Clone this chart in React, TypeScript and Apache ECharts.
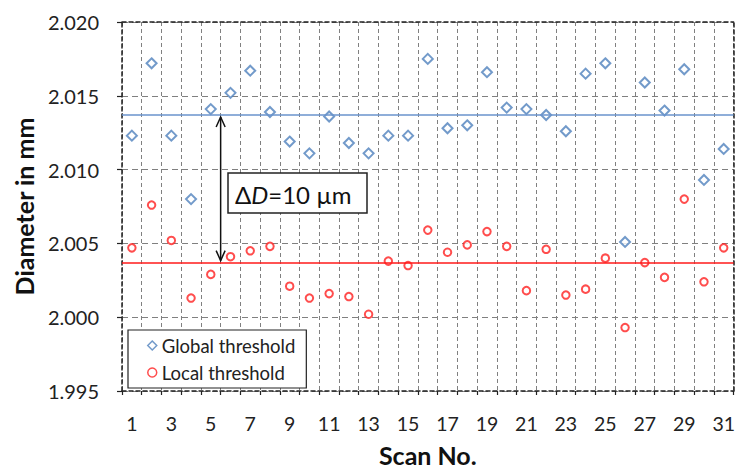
import React, { useEffect, useRef } from "react";
import * as echarts from "echarts";

const scanNumbers = ["1","2","3","4","5","6","7","8","9","10","11","12","13","14","15","16","17","18","19","20","21","22","23","24","25","26","27","28","29","30","31"];

const globalThreshold = [2.0123, 2.0172, 2.0123, 2.0080, 2.0141, 2.0152, 2.0167, 2.0139, 2.0119, 2.0111, 2.0136, 2.0118, 2.0111, 2.0123, 2.0123, 2.0175, 2.0128, 2.0130, 2.0166, 2.0142, 2.0141, 2.0137, 2.0126, 2.0165, 2.0172, 2.0051, 2.0159, 2.0140, 2.0168, 2.0093, 2.0114];

const localThreshold = [2.0047, 2.0076, 2.0052, 2.0013, 2.0029, 2.0041, 2.0045, 2.0048, 2.0021, 2.0013, 2.0016, 2.0014, 2.0002, 2.0038, 2.0035, 2.0059, 2.0044, 2.0049, 2.0058, 2.0048, 2.0018, 2.0046, 2.0015, 2.0019, 2.0040, 1.9993, 2.0037, 2.0027, 2.0080, 2.0024, 2.0047];

const globalMean = 2.0137;
const localMean = 2.0037;

const seriesNames = ["Global threshold", "Local threshold"];
const yMin = 1.995;
const yMax = 2.02;
const yStep = 0.005;

const FONT = "Lato, 'Open Sans', sans-serif";
const BLUE = "#4F81BD";
const RED = "#FF2020";

export default function App() {
  const ref = useRef<HTMLDivElement>(null);
  useEffect(() => {
    document.body.style.margin = "0";
    const chart = echarts.init(ref.current!, undefined, { renderer: "svg" });
    const dashedBorder = { color: "#222", width: 1.5, type: [4, 3] as any };
    chart.setOption({
      animation: false,
      backgroundColor: "#fff",
      grid: { left: 122, right: 4, top: 22, bottom: 75, containLabel: false },
      legend: {
        orient: "vertical",
        left: 128,
        top: 330,
        padding: [6, 11, 6, 19],
        itemGap: 8,
        itemWidth: 9,
        itemHeight: 9,
        borderColor: "#222",
        borderWidth: 1.2,
        backgroundColor: "#fff",
        textStyle: { fontFamily: FONT, fontSize: 18.5, color: "#222" },
        data: [
          { name: seriesNames[0], icon: "diamond", itemStyle: { color: "#fff", borderColor: BLUE, borderWidth: 1.5 } },
          { name: seriesNames[1], icon: "circle", itemStyle: { color: "#fff", borderColor: RED, borderWidth: 1.5 } },
        ],
      },
      xAxis: [
        {
          type: "category",
          data: scanNumbers,
          boundaryGap: true,
          name: "Scan No.",
          nameLocation: "middle",
          nameGap: 51,
          nameTextStyle: { fontFamily: FONT, fontSize: 25, fontWeight: "bold", color: "#111" },
          axisLine: { lineStyle: dashedBorder },
          axisTick: { show: true, interval: 0, length: 4, lineStyle: { color: "#222", width: 1.2 } },
          axisLabel: { interval: 1, margin: 22, fontFamily: FONT, fontSize: 19.5, color: "#222" },
          splitLine: { show: true, interval: 0, lineStyle: { color: "#808080", width: 1, type: [4, 3] } },
        },
        {
          type: "category",
          data: scanNumbers,
          position: "top",
          axisLine: { lineStyle: dashedBorder },
          axisTick: { show: false },
          axisLabel: { show: false },
          splitLine: { show: false },
        },
      ],
      yAxis: [
        {
          type: "value",
          min: yMin,
          max: yMax,
          interval: yStep,
          name: "Diameter in mm",
          nameLocation: "middle",
          nameGap: 85,
          nameTextStyle: { fontFamily: FONT, fontSize: 25, fontWeight: "bold", color: "#111" },
          axisLine: { show: true, lineStyle: dashedBorder },
          axisTick: { show: true, length: 5, lineStyle: { color: "#222", width: 1.2 } },
          axisLabel: { margin: 23, fontFamily: FONT, fontSize: 20, color: "#222", formatter: (v: number) => v.toFixed(3) },
          splitLine: { show: true, lineStyle: { color: "#808080", width: 1, type: [6, 4] } },
        },
        {
          type: "value",
          min: yMin,
          max: yMax,
          interval: yStep,
          position: "right",
          axisLine: { show: true, lineStyle: dashedBorder },
          axisTick: { show: false },
          axisLabel: { show: false },
          splitLine: { show: false },
        },
      ],
      series: [
        {
          name: seriesNames[0],
          type: "scatter",
          xAxisIndex: 0,
          yAxisIndex: 0,
          data: globalThreshold.map((v, i) => [scanNumbers[i], v]),
          symbol: "emptyDiamond",
          symbolSize: 10,
          itemStyle: { color: BLUE, borderWidth: 1.5 },
          markLine: {
            silent: true,
            symbol: "none",
            precision: 5,
            label: { show: false },
            lineStyle: { color: "#6A93CC", width: 1.5, type: "solid" },
            data: [{ yAxis: globalMean }],
          },
          z: 3,
        },
        {
          name: seriesNames[1],
          type: "scatter",
          xAxisIndex: 0,
          yAxisIndex: 0,
          data: localThreshold.map((v, i) => [scanNumbers[i], v]),
          symbol: "emptyCircle",
          symbolSize: 7.5,
          itemStyle: { color: RED, borderWidth: 1.5 },
          markLine: {
            silent: true,
            symbol: "none",
            precision: 5,
            label: { show: false },
            lineStyle: { color: "#FF1A1A", width: 1.5, type: "solid" },
            data: [{ yAxis: localMean }],
          },
          z: 3,
        },
      ],
    });

    const xa = chart.convertToPixel({ xAxisIndex: 0 }, "5") as number;
    const xb = chart.convertToPixel({ xAxisIndex: 0 }, "6") as number;
    const x = (xa + xb) / 2;
    const yTop = (chart.convertToPixel({ yAxisIndex: 0 }, globalMean) as number) + 2;
    const yBot = (chart.convertToPixel({ yAxisIndex: 0 }, localMean) as number) - 2;
    const arrowStyle = { stroke: "#111", lineWidth: 1.5, fill: "none" };

    chart.setOption({
      graphic: [
        { type: "line", shape: { x1: x, y1: yTop, x2: x, y2: yBot }, style: arrowStyle, z: 10 },
        { type: "polyline", shape: { points: [[x - 4.5, yTop + 10], [x, yTop], [x + 4.5, yTop + 10]] }, style: arrowStyle, z: 10 },
        { type: "polyline", shape: { points: [[x - 4.5, yBot - 10], [x, yBot], [x + 4.5, yBot - 10]] }, style: arrowStyle, z: 10 },
        {
          type: "rect",
          shape: { x: 228, y: 173, width: 139, height: 40 },
          style: { fill: "#fff", stroke: "#222", lineWidth: 1.5 },
          z: 10,
        },
        {
          type: "text",
          x: 235,
          y: 194,
          z: 11,
          style: {
            text: "{n|Δ}{i|D}{n|=10 µm}",
            verticalAlign: "middle",
            rich: {
              n: { fontFamily: FONT, fontSize: 24, fill: "#111" },
              i: { fontFamily: FONT, fontSize: 24, fontStyle: "italic", fill: "#111" },
            },
          },
        },
      ],
    });

    return () => chart.dispose();
  }, []);
  return <div ref={ref} style={{ position: "absolute", left: 0, top: 0, width: 738, height: 472 }} />;
}
